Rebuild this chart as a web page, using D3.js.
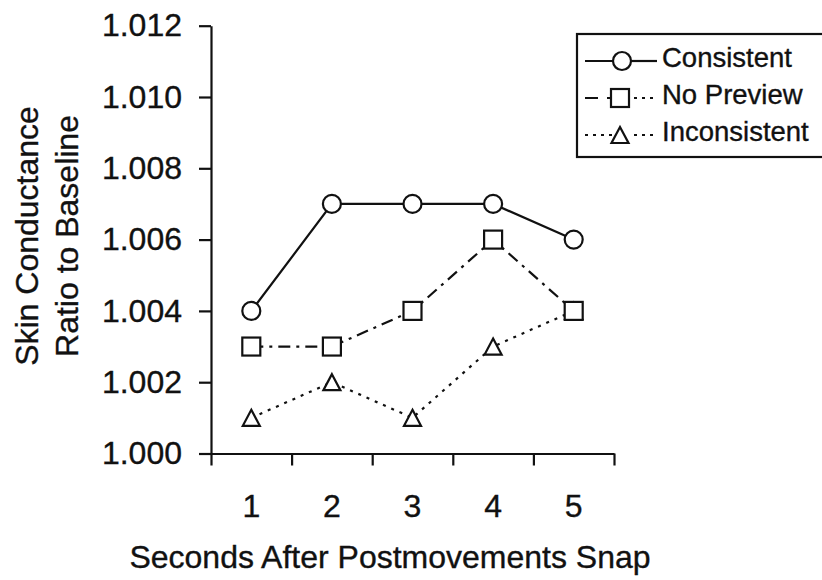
<!DOCTYPE html>
<html>
<head>
<meta charset="utf-8">
<script src="https://cdn.jsdelivr.net/npm/d3@7"></script>
<style>
  html, body { margin: 0; padding: 0; background: #fff; }
  svg { display: block; font-family: "Liberation Sans", Arial, Helvetica, sans-serif; }
  svg text { stroke: #111; stroke-width: 0.35px; }
</style>
</head>
<body>
<svg id="chart" width="822" height="580"></svg>
<script>
// ---- data ----
const categories = [1, 2, 3, 4, 5];
const consistent   = [1.004, 1.007, 1.007, 1.007, 1.006];
const noPreview    = [1.003, 1.003, 1.004, 1.006, 1.004];
const inconsistent = [1.001, 1.002, 1.001, 1.003, 1.004];
const yTicks = [1.000, 1.002, 1.004, 1.006, 1.008, 1.010, 1.012];
const seriesNames = ["Consistent", "No Preview", "Inconsistent"];
const xTitle = "Seconds After Postmovements Snap";
const yTitle = ["Skin Conductance", "Ratio to Baseline"];

const series = [
  { name: seriesNames[0], values: consistent,   dash: null,       legL: null,   legR: null,  marker: "circle" },
  { name: seriesNames[1], values: noPreview,    dash: "12,6,3,6", legL: "13,9", legR: "3,5", marker: "square" },
  { name: seriesNames[2], values: inconsistent, dash: "3,6",      legL: "3,5",  legR: "3,5", marker: "triangle" }
];

const svg = d3.select("#chart");
const x = d3.scaleLinear().domain([0.5, 5.5]).range([211, 614]);
const y = d3.scaleLinear().domain([1.000, 1.012]).range([453.5, 25.7]);

const ink = "#111";
const sw = 2.2;

// ---- y axis ----
const yAxis = d3.axisLeft(y).tickValues(yTicks).tickFormat(d3.format(".3f"))
  .tickSize(12).tickSizeOuter(0).tickPadding(17);
const gy = svg.append("g").attr("transform", `translate(${x.range()[0]},0)`).call(yAxis);
gy.select(".domain").attr("stroke", ink).attr("stroke-width", sw);
gy.selectAll(".tick line").attr("stroke", ink).attr("stroke-width", sw);
gy.selectAll(".tick text").attr("font-size", 32).attr("fill", ink)
  .attr("font-family", "'Liberation Sans', Arial, sans-serif");

// ---- x axis (ticks at band boundaries) ----
const xBounds = d3.range(0.5, 5.6, 1);
const xAxis = d3.axisBottom(x).tickValues(xBounds).tickFormat("").tickSize(12).tickSizeOuter(0);
const gx = svg.append("g").attr("transform", `translate(0,${y.range()[0]})`).call(xAxis);
gx.select(".domain").attr("stroke", ink).attr("stroke-width", sw);
gx.selectAll(".tick line").attr("stroke", ink).attr("stroke-width", sw);

svg.append("g").selectAll("text").data(categories).join("text")
  .attr("x", d => x(d)).attr("y", 517)
  .attr("text-anchor", "middle").attr("font-size", 32).attr("fill", ink)
  .text(d => d);

// ---- titles ----
svg.append("text").attr("x", 390).attr("y", 568).attr("text-anchor", "middle")
  .attr("font-size", 32).attr("fill", ink).text(xTitle);
yTitle.forEach((t, i) => {
  svg.append("text").attr("transform", `translate(${38 + i * 40},236) rotate(-90)`)
    .attr("text-anchor", "middle").attr("font-size", 32).attr("fill", ink).text(t);
});

// ---- marker drawing ----
function drawMarker(g, type, cx, cy) {
  const common = s => s.attr("fill", "#fff").attr("stroke", ink).attr("stroke-width", sw);
  if (type === "circle") {
    common(g.append("circle").attr("cx", cx).attr("cy", cy).attr("r", 9));
  } else if (type === "square") {
    common(g.append("rect").attr("x", cx - 9).attr("y", cy - 9).attr("width", 18).attr("height", 18));
  } else {
    common(g.append("path").attr("d", `M${cx},${cy - 8}L${cx + 8.5},${cy + 8}L${cx - 8.5},${cy + 8}Z`));
  }
}

// ---- lines ----
const line = d3.line().x((d, i) => x(categories[i])).y(d => y(d));
series.forEach(s => {
  svg.append("path").datum(s.values).attr("d", line)
    .attr("fill", "none").attr("stroke", ink).attr("stroke-width", sw)
    .attr("stroke-dasharray", s.dash);
});
// markers (inconsistent first so the square at 5 sits over the triangle)
[2, 0, 1].forEach(k => {
  const s = series[k];
  const g = svg.append("g");
  s.values.forEach((v, i) => drawMarker(g, s.marker, x(categories[i]), y(v)));
});

// ---- legend ----
const lg = svg.append("g");
lg.append("rect").attr("x", 577).attr("y", 34).attr("width", 260).attr("height", 123)
  .attr("fill", "#fff").attr("stroke", ink).attr("stroke-width", sw);
series.forEach((s, i) => {
  const yy = 61 + i * 37;
  const mx = s.marker === "circle" ? 622 : 620;
  lg.append("line").attr("x1", 585).attr("x2", mx).attr("y1", yy).attr("y2", yy)
    .attr("stroke", ink).attr("stroke-width", sw).attr("stroke-dasharray", s.legL);
  lg.append("line").attr("x1", mx + 9).attr("x2", 657).attr("y1", yy).attr("y2", yy)
    .attr("stroke", ink).attr("stroke-width", sw).attr("stroke-dasharray", s.legR)
    .attr("stroke-dashoffset", s.legR ? -5 : null);
  drawMarker(lg, s.marker, mx, yy);
  lg.append("text").attr("x", 662).attr("y", yy + 6).attr("font-size", 27.5)
    .attr("fill", ink).text(s.name);
});
</script>
</body>
</html>
